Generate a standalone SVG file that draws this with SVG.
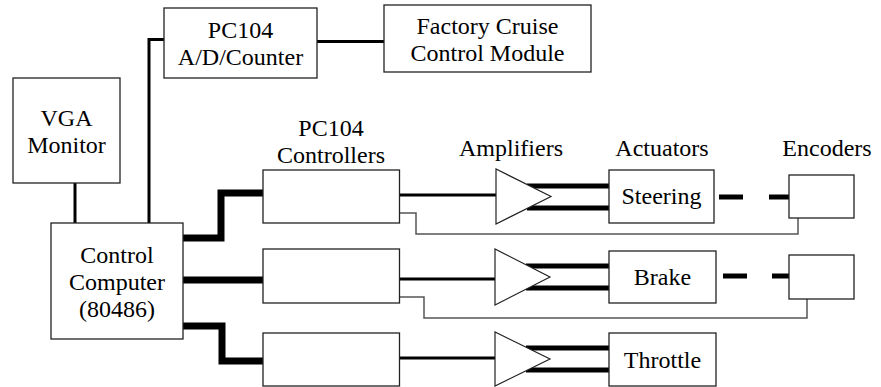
<svg xmlns="http://www.w3.org/2000/svg" width="881" height="387" viewBox="0 0 881 387">
<style>
.box{fill:#fff;stroke:#222;stroke-width:1.3}
.amp{fill:#fff;stroke:#222;stroke-width:1.2}
.c3{fill:none;stroke:#000;stroke-width:3}
.c7{fill:none;stroke:#000;stroke-width:7;stroke-linejoin:miter}
.c5{fill:none;stroke:#000;stroke-width:5}
.fb{fill:none;stroke:#555;stroke-width:1.5}
.t{font-family:"Liberation Serif","Times New Roman",serif;font-size:24px;text-anchor:middle;fill:#000}
</style>
<rect width="881" height="387" fill="#fff"/>
<g id="connectors">
<path class="c3" d="M75,183V223"/>
<path class="c3" d="M149,223V39.5H164"/>
<path class="c3" d="M317,41.5H384"/>
<path class="c7" d="M183,238H221V193H263"/>
<path class="c7" d="M183,280H263"/>
<path class="c7" d="M183,326H222V361H263"/>
<path class="c3" d="M399.5,195H496M399.5,279H495M399.5,358H495"/>
<path class="c5" d="M527,186H609M527,208H609M526,266H609M526,288H609M526,348H609M526,370H609"/>
<path class="c5" d="M719,197H743M769,197H789M723,276H747M772,276H789"/>
<path class="fb" d="M399.5,213H416V234H798V218"/>
<path class="fb" d="M399.5,297H424V318H807V299"/>
</g>
<g id="vga"><rect class="box" x="13" y="78" width="107" height="105"/><text class="t" x="66.5" y="125.5">VGA</text><text class="t" x="66.5" y="152.5">Monitor</text></g>
<g id="computer"><rect class="box" x="51" y="223" width="132" height="116"/><text class="t" x="117" y="263">Control</text><text class="t" x="117" y="290">Computer</text><text class="t" x="117" y="317">(80486)</text></g>
<g id="adcounter"><rect class="box" x="164" y="8" width="153" height="70"/><text class="t" x="240.5" y="38">PC104</text><text class="t" x="240.5" y="65">A/D/Counter</text></g>
<g id="factory"><rect class="box" x="384" y="5" width="207" height="67"/><text class="t" x="487.5" y="33.5">Factory Cruise</text><text class="t" x="487.5" y="60.5">Control Module</text></g>
<g id="controllers-label"><text class="t" x="331" y="136">PC104</text><text class="t" x="331" y="163">Controllers</text></g>
<g id="controller1"><rect class="box" x="263" y="170" width="136.5" height="53"/></g>
<g id="controller2"><rect class="box" x="263" y="249" width="136.5" height="54"/></g>
<g id="controller3"><rect class="box" x="263" y="333" width="136.5" height="53"/></g>
<g id="amplifiers-label"><text class="t" x="511" y="156">Amplifiers</text></g>
<g id="actuators-label"><text class="t" x="662" y="156">Actuators</text></g>
<g id="encoders-label"><text class="t" x="827" y="156">Encoders</text></g>
<g id="amp1"><polygon class="amp" points="496,169 496,224 551,196.5"/></g>
<g id="amp2"><polygon class="amp" points="495,249 495,305 550,277"/></g>
<g id="amp3"><polygon class="amp" points="495,332 495,386 550,359"/></g>
<g id="steering"><rect class="box" x="609" y="170" width="105" height="53"/><text class="t" x="661.5" y="204">Steering</text></g>
<g id="brake"><rect class="box" x="609" y="251" width="107" height="52"/><text class="t" x="662.5" y="285">Brake</text></g>
<g id="throttle"><rect class="box" x="609" y="333" width="107" height="53"/><text class="t" x="662.5" y="368">Throttle</text></g>
<g id="encoder1"><rect class="box" x="789" y="175" width="65" height="43"/></g>
<g id="encoder2"><rect class="box" x="789" y="255" width="65" height="44"/></g>
</svg>
